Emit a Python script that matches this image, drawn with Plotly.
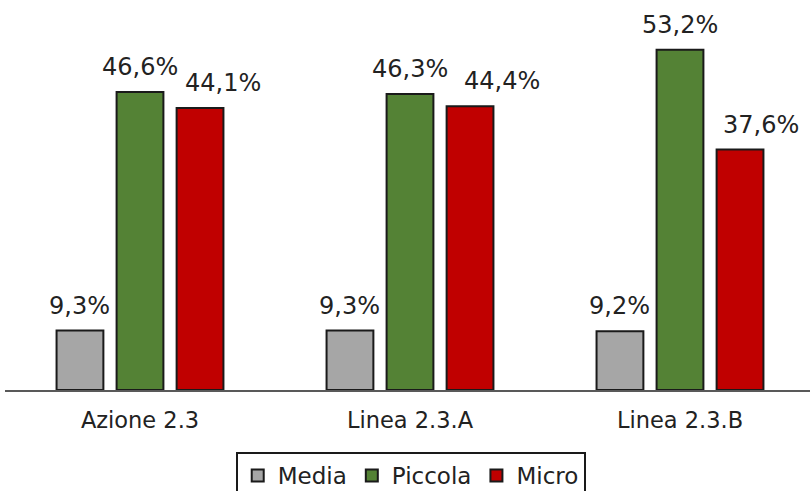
import plotly.graph_objects as go

categories = ["Azione 2.3", "Linea 2.3.A", "Linea 2.3.B"]
media = [9.3, 9.3, 9.2]
piccola = [46.6, 46.3, 53.2]
micro = [44.1, 44.4, 37.6]

series = [
    ("Media", media, "#A6A6A6"),
    ("Piccola", piccola, "#548235"),
    ("Micro", micro, "#C00000"),
]

# horizontal nudge (px) of each series' value labels, per category
label_shift = {
    "Media": [0, 0, 0],
    "Piccola": [0, 0, 0],
    "Micro": [23, 32, 21],
}

FONT = "DejaVu Sans"
BARGAP = 0.333
positions = list(range(len(categories)))
slot = (1 - BARGAP) / len(series)

fig = go.Figure()
annotations = []
for k, (name, vals, color) in enumerate(series):
    fig.add_trace(go.Bar(
        name=name,
        x=positions,
        y=vals,
        marker=dict(color=color, line=dict(color="#1a1a1a", width=2)),
        cliponaxis=False,
    ))
    offset = (k - (len(series) - 1) / 2) * slot
    for i, v in enumerate(vals):
        annotations.append(dict(
            x=positions[i] + offset,
            y=v,
            xref="x",
            yref="y",
            text=f"{v:.1f}%".replace(".", ","),
            showarrow=False,
            xanchor="center",
            yanchor="bottom",
            xshift=label_shift[name][i],
            yshift=9,
            font=dict(family=FONT, size=24, color="#222222"),
        ))

fig.update_layout(
    width=810,
    height=491,
    margin=dict(l=5, r=0, t=0, b=101, autoexpand=False),
    paper_bgcolor="white",
    plot_bgcolor="white",
    barmode="group",
    bargap=BARGAP,
    bargroupgap=0.22,
    font=dict(family=FONT, size=22, color="#222222"),
    showlegend=True,
    annotations=annotations,
    legend=dict(
        orientation="h",
        x=0.504,
        xanchor="center",
        y=-0.159,
        yanchor="top",
        bordercolor="#1a1a1a",
        borderwidth=2,
        font=dict(family=FONT, size=23, color="#222222"),
        itemwidth=30,
    ),
    xaxis=dict(
        range=[-0.5, 2.4815],
        tickvals=positions,
        ticktext=categories,
        showline=True,
        linecolor="#595959",
        linewidth=2,
        ticks="",
        showgrid=False,
        zeroline=False,
        automargin=False,
        tickfont=dict(family=FONT, size=22.5, color="#222222"),
        ticklabelstandoff=9,
    ),
    yaxis=dict(
        range=[0, 61],
        visible=False,
        showgrid=False,
        zeroline=False,
        automargin=False,
    ),
)

fig.write_html("out.html")
